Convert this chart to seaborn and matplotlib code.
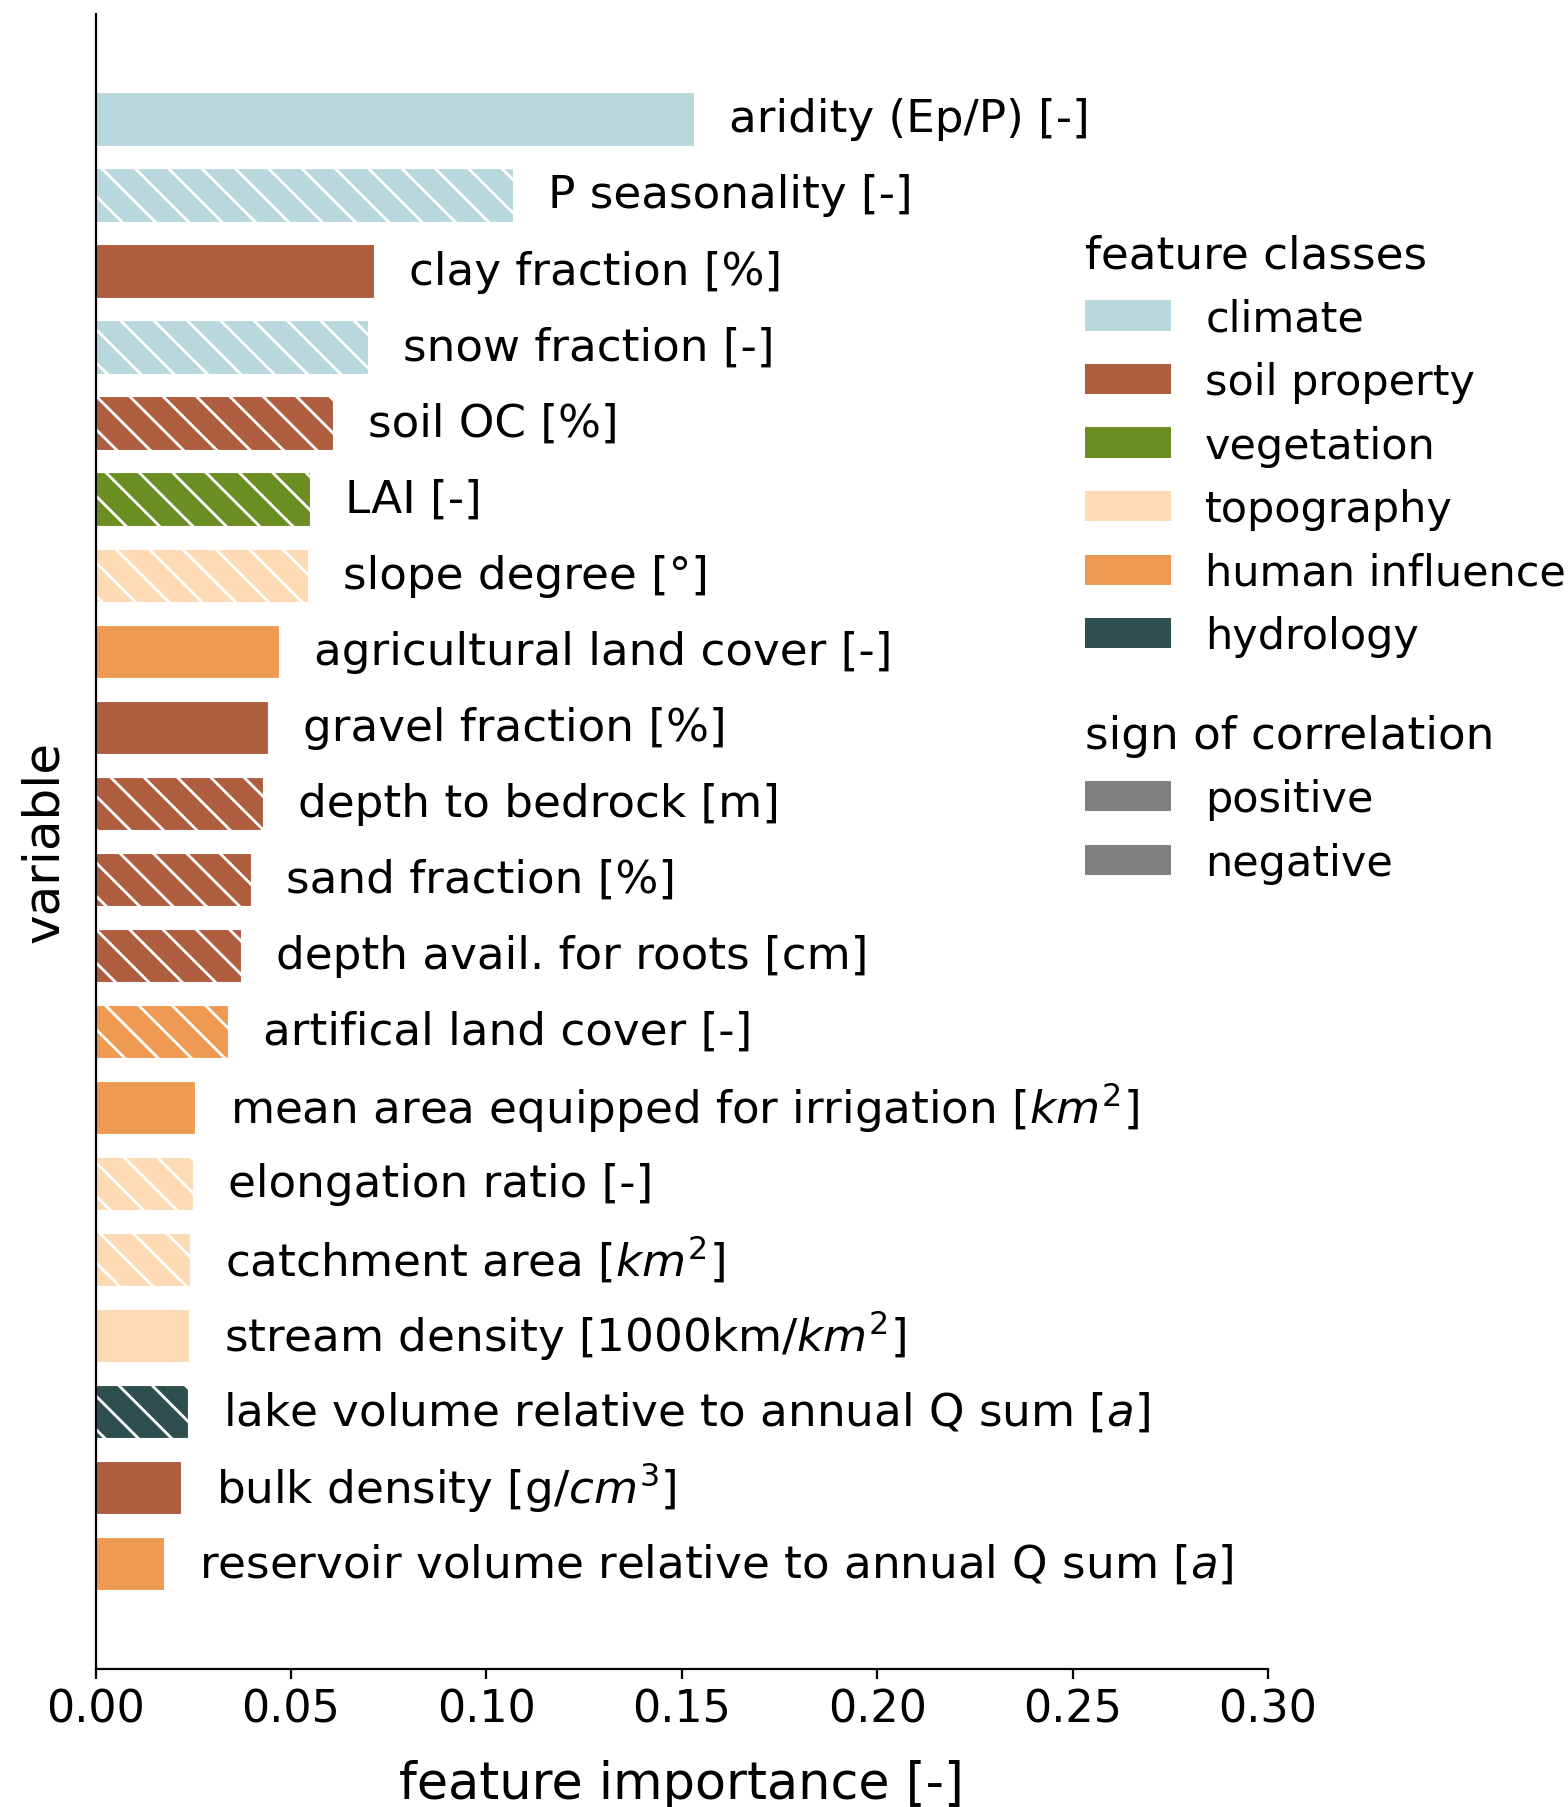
import pandas as pd
import seaborn as sns
import matplotlib.pyplot as plt
from matplotlib.patches import Patch

# ------------------------------------------------------------
# data
# ------------------------------------------------------------
variables = [
    "aridity (Ep/P) [-]",
    "P seasonality [-]",
    "clay fraction [%]",
    "snow fraction [-]",
    "soil OC [%]",
    "LAI [-]",
    "slope degree [°]",
    "agricultural land cover [-]",
    "gravel fraction [%]",
    "depth to bedrock [m]",
    "sand fraction [%]",
    "depth avail. for roots [cm]",
    "artifical land cover [-]",
    "mean area equipped for irrigation [$km^2$]",
    "elongation ratio [-]",
    "catchment area [$km^2$]",
    "stream density [1000km/$km^2$]",
    "lake volume relative to annual Q sum [$a$]",
    "bulk density [g/$cm^3$]",
    "reservoir volume relative to annual Q sum [$a$]",
]
importance = [0.1531, 0.1068, 0.0711, 0.0696, 0.0608, 0.0549, 0.0543, 0.0469,
              0.0440, 0.0428, 0.0398, 0.0372, 0.0339, 0.0254, 0.0248, 0.0242,
              0.0239, 0.0236, 0.0218, 0.0174]
feature_class = ["climate", "climate", "soil property", "climate", "soil property",
                 "vegetation", "topography", "human influence", "soil property",
                 "soil property", "soil property", "soil property", "human influence",
                 "human influence", "topography", "topography", "topography",
                 "hydrology", "soil property", "human influence"]
correlation = ["positive", "negative", "positive", "negative", "negative",
               "negative", "negative", "positive", "positive", "negative",
               "negative", "negative", "negative", "positive", "negative",
               "negative", "positive", "negative", "positive", "positive"]

class_names = ["climate", "soil property", "vegetation", "topography",
               "human influence", "hydrology"]
class_colors = ["#b9d8dd", "#ae5e3f", "#6b8e23", "#fddab3", "#ef9a52", "#2f4f4f"]
sign_names = ["positive", "negative"]

df = pd.DataFrame({
    "variable": variables,
    "importance": importance,
    "feature_class": feature_class,
    "correlation": correlation,
})
palette = dict(zip(class_names, class_colors))

# ------------------------------------------------------------
# plot
# ------------------------------------------------------------
sns.set_style("ticks")
plt.rcParams["font.family"] = ["DejaVu Sans"]
plt.rcParams["text.color"] = "black"
plt.rcParams["axes.labelcolor"] = "black"
plt.rcParams["xtick.color"] = "black"
plt.rcParams["axes.edgecolor"] = "black"
plt.rcParams["hatch.color"] = "white"
plt.rcParams["hatch.linewidth"] = 1.0

fig = plt.figure(figsize=(7.84, 9.04), dpi=200)
ax = fig.add_axes([0.061, 0.0766, 0.7477, 0.9151])

bar_colors = [palette[c] for c in df["feature_class"]]
sns.barplot(
    data=df,
    x="importance",
    y="variable",
    hue="variable",
    palette=bar_colors,
    order=variables,
    hue_order=variables,
    dodge=False,
    legend=False,
    saturation=1,
    width=0.7,
    edgecolor="white",
    linewidth=0.4,
    orient="h",
    ax=ax,
)

# negative correlation -> hatched bars
bars = sorted(ax.patches, key=lambda p: p.get_y())
for bar, sign in zip(bars, df["correlation"]):
    if sign == "negative":
        bar.set_hatch("\\\\")

# labels next to the bars
for i, row in df.iterrows():
    ax.text(row["importance"] + 0.009, i, row["variable"],
            ha="left", va="center", fontsize=16.3, color="black")

ax.set_xlim(0, 0.30)
ax.set_ylim(len(variables) - 1 + 1.38, -1.38)
ax.set_yticks([])
ax.set_xticks([0.0, 0.05, 0.10, 0.15, 0.20, 0.25, 0.30])
ax.set_xticklabels(["0.00", "0.05", "0.10", "0.15", "0.20", "0.25", "0.30"])
ax.tick_params(axis="x", labelsize=16)
ax.set_xlabel("feature importance [-]", fontsize=18.3, labelpad=10)
ax.set_ylabel("variable", fontsize=18, labelpad=10)
sns.despine(ax=ax)

# ------------------------------------------------------------
# legends
# ------------------------------------------------------------
class_handles = [Patch(facecolor=c, edgecolor="none") for c in class_colors]
leg1 = fig.legend(class_handles, class_names, title="feature classes",
                  loc="upper left", bbox_to_anchor=(0.667, 0.892),
                  frameon=False, fontsize=15.5, title_fontsize=16.3,
                  alignment="left")

sign_handles = [Patch(facecolor="grey", edgecolor="none") for _ in sign_names]
leg2 = fig.legend(sign_handles, sign_names, title="sign of correlation",
                  loc="upper left", bbox_to_anchor=(0.667, 0.626),
                  frameon=False, fontsize=15.5, title_fontsize=16.3,
                  alignment="left")

fig.savefig("out.png", dpi=200)
